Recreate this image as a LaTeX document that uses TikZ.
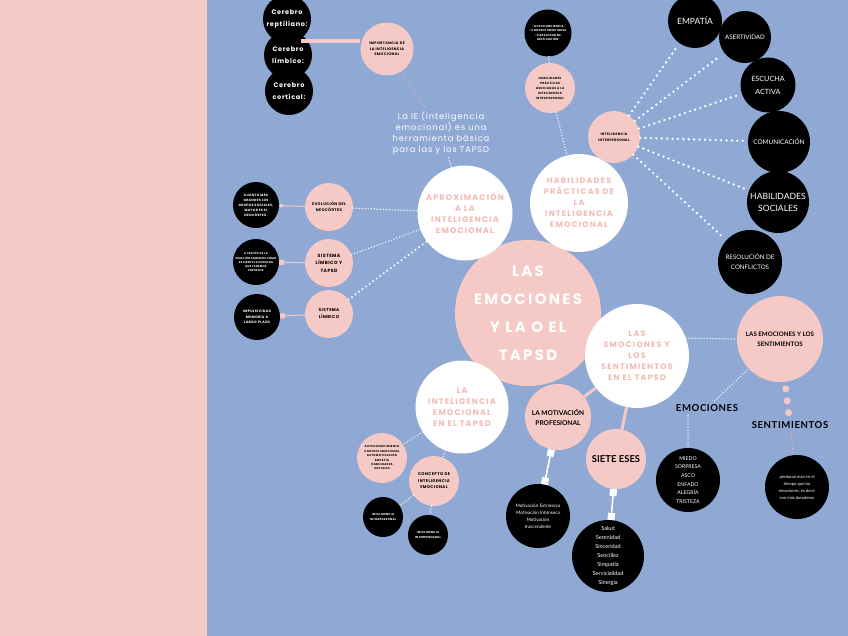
\documentclass[tikz,border=0pt]{standalone}
\usepackage{fontspec}
\setmainfont{Lato}
\newfontfamily\ttlfont[LetterSpace=15]{Poppins}
\newfontfamily\smallfont[LetterSpace=10]{Poppins}
\newfontfamily\latosp[LetterSpace=6]{Lato}
\usetikzlibrary{arrows.meta}

\definecolor{bgblue}{RGB}{143,168,212}
\definecolor{bgpink}{RGB}{245,201,197}
\definecolor{ttlpink}{RGB}{243,186,181}
\definecolor{dotpink}{RGB}{232,176,168}

\tikzset{
  bub/.style={circle, inner sep=0pt, align=center, minimum size=#1},
  blk/.style={bub=#1, fill=black, text=white},
  pnk/.style={bub=#1, fill=bgpink, text=black},
  wht/.style={bub=#1, fill=white, text=ttlpink},
  dots/.style={draw=white, line width=1.5pt, dash pattern=on 0pt off 3pt, line cap=round},
  bigdots/.style={draw=white, line width=2.6pt, dash pattern=on 0pt off 5.4pt, line cap=round},
  pinkline/.style={draw=bgpink, line width=1pt},
  pinkthick/.style={draw=bgpink, line width=3pt},
  sqlink/.style={draw=white, line width=1.6pt, {Square[length=7pt,width=7pt]}-{Square[length=7pt,width=7pt]}},
  tiny/.style 2 args={font=\smallfont\bfseries\fontsize{#1}{#2}\selectfont},
  ttl/.style={font=\ttlfont\bfseries\fontsize{8}{11}\selectfont},
}

\begin{document}
\begin{tikzpicture}[x=1pt, y=-1pt]
  \useasboundingbox (0,0) rectangle (848,636);
  \fill[bgpink] (0,0) rectangle (207,636);
  \fill[bgblue] (207,0) rectangle (848,636);

  % brain
  \node[blk=48, font=\smallfont\bfseries\fontsize{6.5}{12}\selectfont] (rept) at (287,19) {Cerebro\\reptiliano:};
  \node[blk=48, font=\smallfont\bfseries\fontsize{6.5}{12}\selectfont] (limb) at (288,55) {Cerebro\\límbico:};
  \node[blk=48, font=\smallfont\bfseries\fontsize{6.5}{12}\selectfont] (cort) at (289,91) {Cerebro\\cortical:};
  \node[pnk=53, tiny={3.6}{5.6}] (imp) at (387,49) {IMPORTANCIA DE\\LA INTELIGENCIA\\EMOCIONAL};
  \coordinate (barL) at (301,41);
  \draw[bgpink, line width=4pt] (barL) -- (imp.west |- barL);

  \node[text=white, align=center, font=\smallfont\fontsize{8.4}{11}\selectfont] (ienote) at (441,133)
    {La IE (inteligencia\\emocional) es una\\herramienta básica\\para las y los TAPSD};

  % main circles
  \node[pnk=146, text=white, font=\ttlfont\bfseries\fontsize{15}{28}\selectfont] (main) at (528,313) {LAS\\EMOCIONES\\Y LA O EL\\TAPSD};
  \node[wht=95, ttl] (aprox) at (465,213) {APROXIMACIÓN\\A LA\\INTELIGENCIA\\EMOCIONAL};
  \node[wht=98, ttl] (habil) at (579,203) {HABILIDADES\\PRÁCTICAS DE\\LA\\INTELIGENCIA\\EMOCIONAL};
  \node[wht=104, ttl] (emosent) at (637,356) {LAS\\EMOCIONES Y\\LOS\\SENTIMIENTOS\\EN EL TAPSD};
  \node[wht=93, ttl] (laie) at (462,407) {LA\\INTELIGENCIA\\EMOCIONAL\\EN EL TAPSD};

  % left branch
  \node[blk=46, tiny={3.2}{5}] (cuanto) at (256,205) {CUANTO MÁS\\GRANDES LOS\\GRUPOS SOCIALES,\\MAYOR ES EL\\NEOCÓRTEX.};
  \node[pnk=48, tiny={3.8}{6}] (evo) at (329,207) {EVOLUCIÓN DEL\\NEOCÓRTEX};
  \node[blk=46, tiny={2.7}{4.2}] (atraves) at (256,262) {A TRAVÉS DE LA\\EMOCIÓN SABEMOS CÓMO\\SE SIENTE LA PERSONA\\QUE TENEMOS\\ENFRENTE};
  \node[pnk=48, tiny={4.6}{7.5}] (slt) at (329,263) {SISTEMA\\LÍMBICO Y\\TAPSD};
  \node[blk=46, tiny={3.4}{5.5}] (impul) at (257,317) {IMPULSIVIDAD\\MEMORIA A\\LARGO PLAZO};
  \node[pnk=48, tiny={4.2}{7}] (sl) at (329,314) {SISTEMA\\LÍMBICO};

  \draw[pinkline, {Circle[length=4pt]}-] (cuanto) -- (evo);
  \draw[pinkline, {Square[length=5pt,width=5pt]}-] (atraves) -- (slt);
  \draw[pinkline, {Square[length=5pt,width=5pt]}-] (impul) -- (sl);
  \draw[dots] (evo) -- (aprox);
  \draw[dots] (slt) -- (aprox);
  \draw[dots, line width=2.2pt, dash pattern=on 0pt off 4.4pt] (sl) -- (aprox);
  \draw[dotpink, line width=1.2pt, dash pattern=on 0pt off 2.2pt, line cap=round] (imp) -- (ienote);
  \draw[dots] (ienote) -- (aprox);

  % bottom left branch
  \node[pnk=50, tiny={2.8}{4.4}] (autoc) at (382,458) {AUTOCONOCIMIENTO\\CONTROL EMOCIONAL\\AUTOMOTIVACIÓN\\EMPATÍA\\HABILIDADES\\SOCIALES};
  \node[pnk=50, tiny={4}{6.5}] (concepto) at (434,481) {CONCEPTO DE\\INTELIGENCIA\\EMOCIONAL};
  \node[blk=40, tiny={2.8}{4.6}] (intra) at (383,517) {INTELIGENCIA\\INTRAPERSONAL};
  \node[blk=40, tiny={2.8}{4.6}] (inter) at (428,535) {INTELIGENCIA\\INTERPERSONAL};
  \draw[dots] (laie) -- (autoc);
  \draw[dots] (laie) -- (concepto);
  \draw[dots] (concepto) -- (intra);
  \draw[dots] (concepto) -- (inter);

  % top right branch
  \node[blk=47, tiny={2.8}{4.6}] (autocb) at (548,33) {-AUTOCONCIENCIA\\-CONTROL EMOCIONAL\\-CAPACIDAD DE\\MOTIVACIÓN};
  \node[pnk=50, tiny={3}{5}] (habint) at (550,88) {HABILIDADES\\PRÁCTICAS\\ASOCIADAS A LA\\INTELIGENCIA\\INTRAPERSONAL};
  \node[pnk=52, tiny={3.4}{5.8}] (interp) at (614,137) {INTELIGENCIA\\INTERPERSONAL};
  \draw[dots] (autocb) -- (habint);
  \draw[dots] (habint) -- (habil);

  \node[blk=54, font=\fontsize{8.5}{10}\selectfont] (empatia) at (695,21) {EMPATÍA};
  \node[blk=52, font=\fontsize{6.2}{8}\selectfont] (asert) at (745,37) {ASERTIVIDAD};
  \node[blk=55, font=\fontsize{7.2}{13}\selectfont] (escucha) at (768,85) {ESCUCHA\\ACTIVA};
  \node[blk=62, font=\fontsize{6.4}{8}\selectfont] (comun) at (779,142) {COMUNICACIÓN};
  \node[blk=62, font=\fontsize{8.6}{12}\selectfont] (habsoc) at (778,202) {HABILIDADES\\SOCIALES};
  \node[blk=64, font=\fontsize{6.2}{10}\selectfont] (resol) at (750,262) {RESOLUCIÓN DE\\CONFLICTOS};
  \foreach \t in {empatia,asert,escucha,comun,habsoc,resol}
    \draw[bigdots, shorten >=5pt] (interp) -- (\t);

  % bottom right branch
  \node[pnk=66, font=\bfseries\fontsize{6.6}{10}\selectfont] (motiv) at (558,417) {LA MOTIVACIÓN\\PROFESIONAL};
  \node[pnk=60, font=\bfseries\fontsize{9.5}{11}\selectfont] (siete) at (616,459) {SIETE ESES};
  \node[blk=64, font=\fontsize{4.6}{7}\selectfont] (motext) at (538,516) {Motivación Extrínseca\\Motivación Intrínseca\\Motivación\\trascendente};
  \node[blk=72, font=\fontsize{5.6}{9}\selectfont] (sieteb) at (608,556) {Salud\\Serenidad\\Sinceridad\\Sencillez\\Simpatía\\Servicialidad\\Sinergia};
  \draw[pinkthick] (motiv) -- (emosent);
  \draw[pinkthick] (siete) -- (emosent);
  \draw[sqlink] (motiv) -- (motext);
  \draw[sqlink] (siete) -- (sieteb);

  \node[pnk=86, font=\bfseries\fontsize{6.2}{10}\selectfont] (emosentp) at (780,339) {LAS EMOCIONES Y LOS\\SENTIMIENTOS};
  \node[font=\latosp\bfseries\fontsize{9.6}{11}\selectfont] (emo) at (707,408) {EMOCIONES};
  \node[font=\latosp\bfseries\fontsize{9.6}{11}\selectfont] (sent) at (790,425) {SENTIMIENTOS};
  \node[blk=64, font=\fontsize{5.2}{8.6}\selectfont] (emob) at (688,480) {MIEDO\\SORPRESA\\ASCO\\ENFADO\\ALEGRÍA\\TRISTEZA};
  \node[blk=64, font=\fontsize{4.2}{7}\selectfont] (sentb) at (797,487) {perduran más en el\\tiempo que las\\emociones, es decir\\son más duraderos};
  \draw[dots] (emosent.20) -- (emosentp.west);
  \draw[dots] (emo) -- (emosentp);
  \draw[dots] (emo.south -| emob) -- (emob);
  \draw[bgpink, line width=7pt, dash pattern=on 0pt off 12pt, line cap=round, shorten <=7pt] (emosentp) -- (sent);
  \draw[dotpink, line width=1.8pt, dash pattern=on 0pt off 3.4pt, line cap=round] (sent) -- (sentb);
\end{tikzpicture}
\end{document}
